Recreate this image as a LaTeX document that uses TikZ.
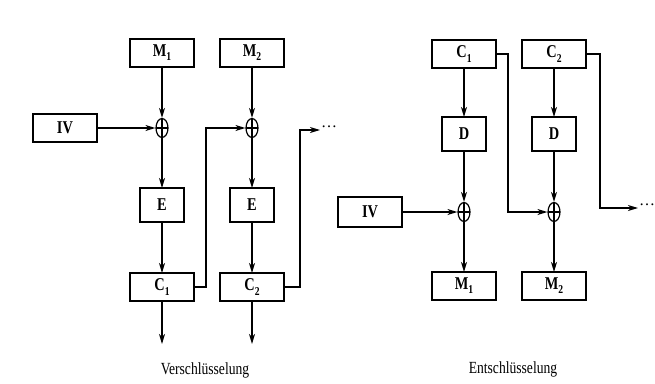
\documentclass[tikz,border=0pt]{standalone}
\usepackage{fontspec}
\setmainfont{Liberation Serif}
\newfontfamily\condfont[FakeStretch=0.8]{Liberation Serif}
\usetikzlibrary{arrows.meta,shapes.geometric}
\newcommand\sub[1]{\raisebox{-0.5ex}{\fontsize{12}{12}\selectfont #1}}
\begin{document}
\begin{tikzpicture}[x=1pt,y=-1pt,
  box/.style={draw,line width=1.5pt,minimum width=64pt,minimum height=28pt,inner sep=0pt,outer sep=0pt,
    font=\condfont\fontsize{18}{18}\selectfont\bfseries},
  sbox/.style={box,minimum width=44pt,minimum height=34pt},
  xorsym/.style={ellipse,draw,line width=1.2pt,minimum width=12pt,minimum height=19pt,inner sep=0pt,
    path picture={\draw[line width=1.1pt] (path picture bounding box.north) -- (path picture bounding box.south)
      (path picture bounding box.west) -- (path picture bounding box.east);}},
  conn/.style={line width=1.3pt,-{Stealth[length=10pt,width=6pt,inset=3pt]}},
  captext/.style={font=\condfont\fontsize{17}{17}\selectfont},
  dotsn/.style={font=\fontsize{16}{16}\selectfont,inner sep=1pt,anchor=west}]
\useasboundingbox[fill=white] (0,0) rectangle (655,383);
% ---------------- Verschluesselung ----------------
\node[box] (M1) at (162,53) {M\sub{1}};
\node[box] (M2) at (252,53) {M\sub{2}};
\node[box] (IV) at (65,128) {IV};
\node[xorsym] (X1) at (162,128) {};
\node[xorsym] (X2) at (252,128) {};
\node[sbox] (E1) at (162,205) {E};
\node[sbox] (E2) at (252,205) {E};
\node[box] (C1) at (162,287) {C\sub{1}};
\node[box] (C2) at (252,287) {C\sub{2}};
\coordinate (o1) at (162,344);
\coordinate (o2) at (252,344);
\node[captext] (T1) at (205,370) {Verschlüsselung};
\draw[conn] (M1) -- (X1);
\draw[conn] (M2) -- (X2);
\draw[conn] (IV) -- (X1);
\draw[conn] (X1) -- (E1);
\draw[conn] (X2) -- (E2);
\draw[conn] (E1) -- (C1);
\draw[conn] (E2) -- (C2);
\draw[conn] (C1) -- (o1);
\draw[conn] (C2) -- (o2);
\coordinate (j1) at (206,128);
\draw[conn] (C1.east) -| (j1) -- (X2.west);
\node[dotsn] (d1) at (320,127) {\dots};
\coordinate (j2) at (300,130);
\draw[conn] (C2.east) -| (j2) -- (j2 -| d1.west);
% ---------------- Entschluesselung ----------------
\node[box] (RC1) at (464,54) {C\sub{1}};
\node[box] (RC2) at (554,54) {C\sub{2}};
\node[sbox] (D1) at (464,134) {D};
\node[sbox] (D2) at (554,134) {D};
\node[xorsym] (X3) at (464,212) {};
\node[xorsym] (X4) at (554,212) {};
\node[box,minimum height=30pt] (RIV) at (370,212) {IV};
\node[box] (RM1) at (464,286) {M\sub{1}};
\node[box] (RM2) at (554,286) {M\sub{2}};
\node[captext] (T2) at (513,369) {Entschlüsselung};
\draw[conn] (RC1) -- (D1);
\draw[conn] (RC2) -- (D2);
\draw[conn] (D1) -- (X3);
\draw[conn] (D2) -- (X4);
\draw[conn] (RIV) -- (X3);
\draw[conn] (X3) -- (RM1);
\draw[conn] (X4) -- (RM2);
\coordinate (j3) at (508,212);
\draw[conn] (RC1.east) -| (j3) -- (X4.west);
\node[dotsn] (d2) at (638,205) {\dots};
\coordinate (j4) at (600,208);
\draw[conn] (RC2.east) -| (j4) -- (j4 -| d2.west);
\end{tikzpicture}
\end{document}
